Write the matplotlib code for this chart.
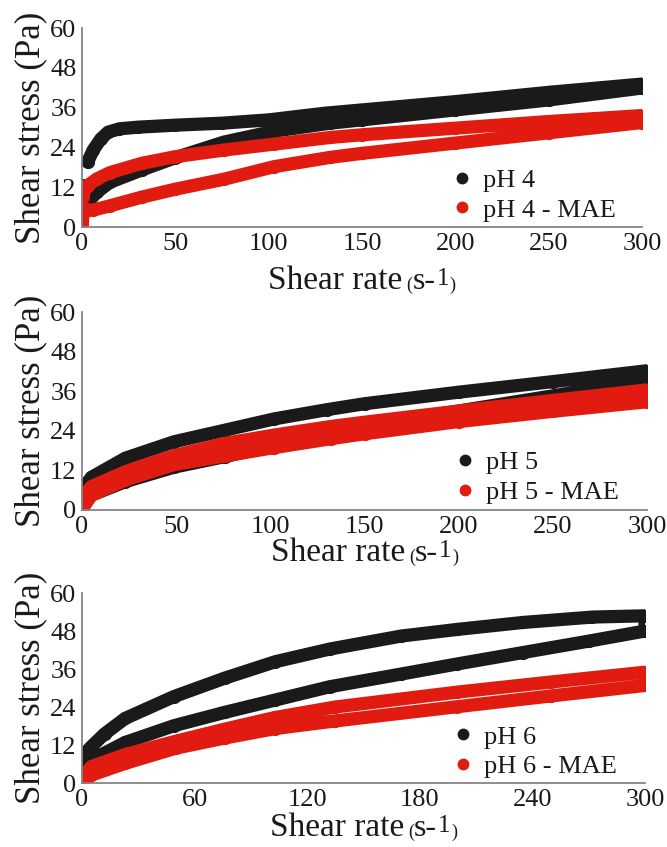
import matplotlib
matplotlib.use('Agg')
import matplotlib.pyplot as plt
from matplotlib.lines import Line2D

plt.rcParams['font.family'] = ['Liberation Serif', 'DejaVu Serif']

BLACK = '#1a1a1a'
RED = '#e21b10'

# ---- pH 4 ----
ph4_up_rate = [3, 6, 10, 14, 20, 30, 50, 75, 100, 130, 150, 200, 250, 300]
ph4_up = [19.6, 23.2, 26.5, 28.6, 29.6, 30.1, 30.7, 31.3, 32.3, 34.3, 35.3, 37.8, 40.6, 43.1]
ph4_down_rate = [300, 250, 200, 150, 133, 103, 76, 50, 32, 15, 8, 4, 2, 0.5]
ph4_down = [41.9, 38.3, 35.3, 32.3, 31.3, 28.9, 25.6, 20.9, 17.2, 13.5, 10.5, 8.0, 10.0, 12.5]
mae4_up_rate = [0.2, 0.6, 3, 6, 15, 32, 50, 76, 103, 133, 150, 200, 250, 300]
mae4_up = [1.0, 5.0, 5.2, 5.1, 6.4, 9.0, 11.4, 14.4, 18.2, 21.0, 22.2, 25.3, 28.4, 31.5]
mae4_down_rate = [300, 250, 200, 150, 133, 103, 76, 50, 32, 15, 8, 3, 1, 0.3]
mae4_down = [33.6, 31.8, 29.8, 27.8, 27.0, 25.0, 23.2, 21.2, 19.2, 16.4, 14.5, 12.5, 11.0, 9.0]

# ---- pH 5 ----
ph5_up_rate = [0.5, 5, 23, 49, 76, 102, 130, 150, 200, 250, 300]
ph5_up = [6.5, 9.9, 15.7, 20.7, 24.2, 27.6, 30.4, 32.2, 35.7, 38.9, 42.2]
ph5_down_rate = [300, 250, 200, 150, 132, 102, 76, 49, 23, 5, 0.5]
ph5_down = [39.2, 34.6, 30.0, 25.4, 23.2, 19.6, 16.2, 13.0, 8.6, 4.5, 1.0]
mae5_up_rate = [0.5, 5, 23, 49, 76, 102, 132, 150, 200, 250, 300]
mae5_up = [4.0, 7.1, 11.6, 16.5, 20.2, 22.7, 25.3, 26.6, 30.0, 33.2, 36.4]
mae5_down_rate = [300, 250, 200, 150, 132, 102, 76, 49, 23, 5, 0.3]
mae5_down = [32.8, 29.9, 26.8, 23.1, 21.6, 18.9, 16.4, 13.8, 9.1, 4.5, 0.5]

# ---- pH 6 ----
ph6_up_rate = [1, 5, 12, 23, 49, 76, 103, 132, 170, 200, 235, 272, 300]
ph6_up = [9.0, 11.5, 15.5, 20.4, 27.3, 33.1, 38.3, 42.3, 46.4, 48.5, 50.7, 52.4, 52.8]
ph6_down_rate = [300, 270, 235, 200, 170, 132, 103, 76, 49, 23, 5, 0.5]
ph6_down = [48.0, 44.8, 41.2, 37.6, 34.4, 30.4, 26.2, 22.3, 18.1, 12.8, 7.3, 5.0]
mae6_up_rate = [0.5, 5, 23, 50, 76, 103, 135, 200, 250, 300]
mae6_up = [2.0, 5.2, 9.0, 13.2, 17.0, 20.7, 24.0, 28.7, 31.9, 35.0]
mae6_down_rate = [300, 250, 200, 135, 103, 76, 50, 23, 5, 0.3]
mae6_down = [30.8, 27.5, 24.1, 19.6, 17.2, 14.2, 11.0, 6.2, 2.5, 0.0]

panels = [
    dict(pos=[82, 227, 642, 28], xticks=[0, 50, 100, 150, 200, 250, 300],
         black=(ph4_up_rate + ph4_down_rate, ph4_up + ph4_down),
         red=(mae4_up_rate + mae4_down_rate, mae4_up + mae4_down),
         labels=['pH 4', 'pH 4 - MAE'], leg=(449, 195), xlab=289),
    dict(pos=[82, 510, 647, 312], xticks=[0, 50, 100, 150, 200, 250, 300],
         black=(ph5_up_rate + ph5_down_rate, ph5_up + ph5_down),
         red=(mae5_up_rate + mae5_down_rate, mae5_up + mae5_down),
         labels=['pH 5', 'pH 5 - MAE'], leg=(452, 477.5), xlab=561),
    dict(pos=[82, 783, 645, 593], xticks=[0, 60, 120, 180, 240, 300],
         black=(ph6_up_rate + ph6_down_rate, ph6_up + ph6_down),
         red=(mae6_up_rate + mae6_down_rate, mae6_up + mae6_down),
         labels=['pH 6', 'pH 6 - MAE'], leg=(450, 751.7), xlab=836),
]

W, H = 667, 847
fig = plt.figure(figsize=(6.67, 8.47), dpi=100)


def rate_label(fig, cx, base):
    # "Shear rate (s-1)" with small brackets and a raised 1
    pieces = [('Shear rate', 24, 0, 0), ('(', 13, -1, 4), ('s-', 23, 0, 0),
              ('1', 18, 4, 1), (')', 13, -1, 1)]
    r = fig.canvas.get_renderer()
    texts = []
    total = 0
    for s, fs, dy, gap in pieces:
        t = fig.text(0, 0, s, fontsize=fs, color=BLACK, va='baseline', ha='left')
        w = t.get_window_extent(r).width
        texts.append((t, w, dy, gap))
        total += w + gap
    x = cx - total / 2
    for t, w, dy, gap in texts:
        x += gap
        t.set_position((x / W, 1 - (base - dy) / H))
        x += w


for p in panels:
    l, b, rgt, tp = p['pos']
    ax = fig.add_axes([l / W, 1 - b / H, (rgt - l) / W, (b - tp) / H])
    bx, by = p['black']
    rx, ry = p['red']
    ax.plot(bx, by, color=BLACK, lw=9.5, marker='o', ms=9.5, mew=0,
            solid_capstyle='round', solid_joinstyle='round')
    ax.plot(rx, ry, color=RED, lw=9.5, marker='o', ms=9.5, mew=0,
            solid_capstyle='round', solid_joinstyle='round')
    ax.set_xlim(0, 300)
    ax.set_ylim(0, 60)
    ax.set_xticks(p['xticks'])
    ax.set_yticks([0, 12, 24, 36, 48, 60])
    ax.tick_params(length=0, labelsize=19, colors=BLACK, pad=4)
    for s in ['top', 'right']:
        ax.spines[s].set_visible(False)
    for s in ['left', 'bottom']:
        ax.spines[s].set_color('#858585')
        ax.spines[s].set_linewidth(1.3)
    ax.set_ylabel('Shear stress (Pa)', fontsize=25, color=BLACK, labelpad=2)
    handles = [Line2D([], [], ls='none', marker='o', ms=8.5, mew=0, color=BLACK),
               Line2D([], [], ls='none', marker='o', ms=8.5, mew=0, color=RED)]
    lx, ly = p['leg']
    ax.legend(handles, p['labels'], loc='center left',
              bbox_to_anchor=(lx / W, 1 - ly / H), bbox_transform=fig.transFigure,
              frameon=False, fontsize=19, handlelength=1.0, handletextpad=0.3,
              labelspacing=0.23, borderpad=0, borderaxespad=0, labelcolor=BLACK)
    rate_label(fig, (l + rgt) / 2, p['xlab'])

fig.savefig('out.png', dpi=100)
